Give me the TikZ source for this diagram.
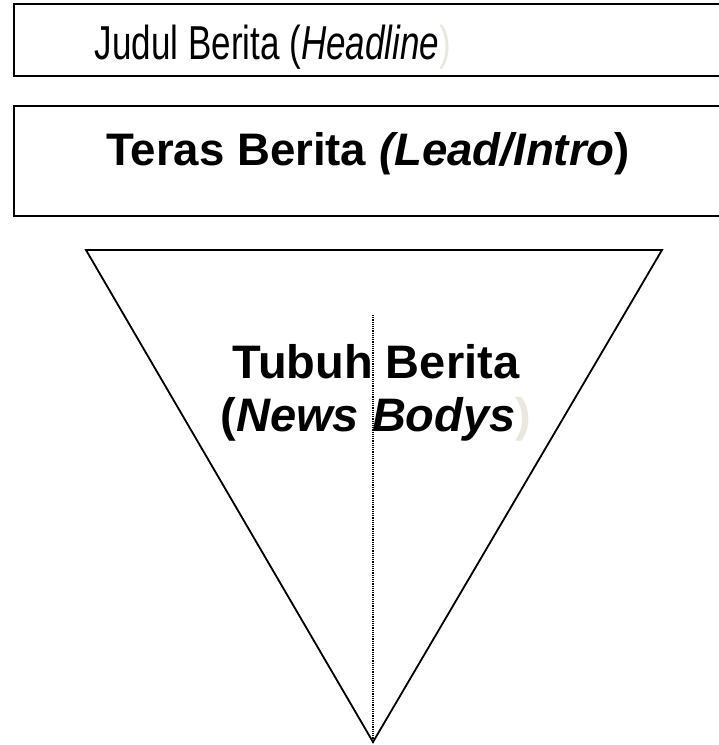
\documentclass[tikz,border=0pt]{standalone}
\usepackage{fontspec}
\setmainfont{Liberation Sans}
\usepackage{graphicx}
\definecolor{parengrey}{RGB}{234,232,222}
\begin{document}
\begin{tikzpicture}[x=1pt,y=-1pt,
  boxline/.style={draw=black,line width=2pt},
  triline/.style={draw=black,line width=1.8pt,line join=miter},
  midline/.style={draw=black,line width=1.3pt,dash pattern=on 1.1pt off 1.1pt},
  labeltext/.style={inner sep=0pt,anchor=base}]
\clip (0,0) rectangle (719,745);
\fill[white] (0,0) rectangle (719,745);
% boxes
\draw[boxline] (13.5,3.5) rectangle (740,75.5);
\draw[boxline] (13.5,106) rectangle (740,216);
% triangle
\coordinate (tl) at (86,250);
\coordinate (tr) at (662,250);
\coordinate (apex) at (373,742);
\coordinate (dtop) at (373,315);
\draw[triline] (tl) -- (tr) -- (apex) -- cycle;
\draw[midline] (dtop) -- (apex);
% texts
\node[labeltext,font=\fontsize{35}{40}\selectfont] (judul) at (273,59)
  {\scalebox{1}[1.36]{Judul Berita (\textit{Headline}\textcolor{parengrey}{)}}};
\node[labeltext,font=\fontsize{45.6}{52}\selectfont\bfseries] (teras) at (368,165)
  {Teras Berita \textit{(Lead/Intro}) };
\node[labeltext,font=\fontsize{47}{54}\selectfont\bfseries] (tubuh) at (376,378)
  {Tubuh Berita};
\node[labeltext,font=\fontsize{47}{54}\selectfont\bfseries] (news) at (376,431)
  {(\textit{News Bodys}\textcolor{parengrey}{)}};
\end{tikzpicture}
\end{document}
